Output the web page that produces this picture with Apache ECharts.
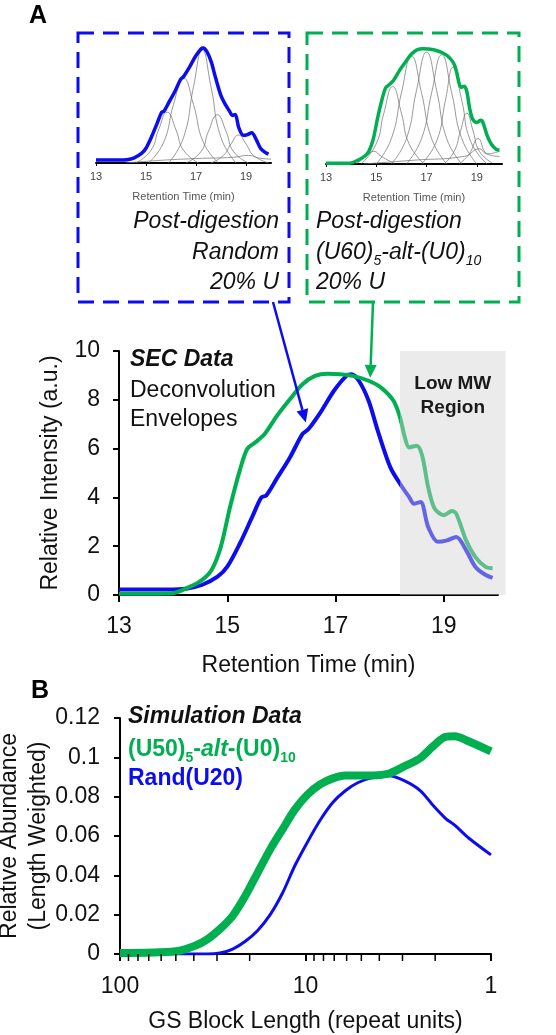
<!DOCTYPE html>
<html>
<head>
<meta charset="utf-8">
<script src="https://cdn.jsdelivr.net/npm/echarts@6/dist/echarts.min.js"></script>
<style>
  html, body { margin: 0; padding: 0; background: #fff; }
  #chart { width: 556px; height: 1035px; }
</style>
</head>
<body>
<div id="chart"></div>
<script>
const FONT = '"Liberation Sans", Arial, sans-serif';
const BLUE = '#0c0cf0';
const GREEN = '#00b050';

// Panel A: SEC deconvolution envelopes [retention time (min), intensity]
const secRandom = [
  [13.0, 0.23], [13.9, 0.23], [14.24, 0.26], [14.53, 0.41], [14.82, 0.75], [15.0, 1.16],
  [15.23, 2.1], [15.46, 3.2], [15.63, 4.0], [15.72, 4.08], [15.93, 4.83], [16.16, 5.65],
  [16.39, 6.6], [16.5, 6.8], [16.74, 7.55], [16.97, 8.37], [17.2, 8.98], [17.29, 9.05],
  [17.43, 8.78], [17.61, 7.96], [17.78, 6.73], [18.01, 5.24], [18.19, 4.56], [18.36, 4.01],
  [18.45, 3.74], [18.57, 3.81], [18.71, 2.79], [18.89, 2.18], [19.06, 2.24], [19.23, 2.38],
  [19.41, 1.84], [19.58, 1.16], [19.75, 0.85], [19.9, 0.7]
];
const secAlt = [
  [13.0, 0.05], [13.95, 0.06], [14.24, 0.27], [14.53, 0.61], [14.71, 1.02], [14.88, 1.97],
  [15.05, 3.6], [15.23, 5.1], [15.37, 5.99], [15.52, 6.26], [15.69, 6.6], [15.92, 7.35],
  [16.16, 8.03], [16.39, 8.64], [16.62, 8.98], [16.85, 9.07], [17.09, 9.05], [17.32, 8.98],
  [17.61, 8.78], [17.84, 8.5], [18.07, 7.96], [18.19, 7.28], [18.28, 6.46], [18.36, 6.05],
  [18.5, 6.12], [18.6, 5.71], [18.71, 4.42], [18.83, 3.54], [19.0, 3.27], [19.15, 3.44],
  [19.23, 3.33], [19.41, 2.24], [19.58, 1.56], [19.77, 1.15], [19.9, 1.1]
];

// inset gray deconvolution components
const randomComponents = [
  [[14.6, 0], [15.2, 1.0], [15.5, 2.6], [15.85, 4.0], [16.2, 2.6], [16.5, 1.0], [17.1, 0]],
  [[15.1, 0], [15.7, 1.6], [16.1, 4.6], [16.5, 6.7], [16.9, 4.6], [17.3, 1.6], [17.9, 0]],
  [[15.9, 0], [16.5, 2.0], [16.9, 6.0], [17.25, 8.9], [17.6, 6.0], [18.0, 2.0], [18.6, 0]],
  [[16.6, 0], [17.2, 0.9], [17.5, 2.5], [17.85, 3.8], [18.2, 2.5], [18.5, 0.9], [19.1, 0]],
  [[17.6, 0], [18.1, 0.6], [18.4, 1.5], [18.7, 2.2], [19.0, 1.5], [19.3, 0.6], [19.9, 0]],
  [[14.2, 0], [15.5, 0.2], [17.0, 0.35], [18.5, 0.45], [19.1, 0.6], [19.5, 0.4], [20.0, 0.3]]
];
const altComponents = [
  [[14.2, 0], [14.6, 0.6], [14.9, 1.0], [15.2, 0.6], [15.7, 0.05]],
  [[14.4, 0], [15.0, 1.6], [15.3, 4.0], [15.65, 6.1], [16.0, 4.0], [16.3, 1.6], [16.9, 0]],
  [[15.0, 0], [15.6, 2.0], [16.0, 5.6], [16.4, 8.5], [16.8, 5.6], [17.2, 2.0], [17.8, 0]],
  [[15.6, 0], [16.2, 2.0], [16.6, 5.8], [17.0, 8.8], [17.4, 5.8], [17.8, 2.0], [18.4, 0]],
  [[16.2, 0], [16.8, 2.0], [17.2, 5.6], [17.6, 8.6], [18.0, 5.6], [18.4, 2.0], [19.0, 0]],
  [[16.8, 0], [17.4, 1.8], [17.75, 5.0], [18.05, 7.6], [18.4, 5.0], [18.75, 1.8], [19.4, 0]],
  [[17.7, 0], [18.1, 1.0], [18.35, 2.6], [18.6, 4.0], [18.85, 2.6], [19.1, 1.0], [19.6, 0.1]],
  [[18.3, 0], [18.7, 0.8], [19.05, 2.0], [19.4, 0.8], [19.9, 0.6]],
  [[14.5, 0], [16.5, 0.3], [18.5, 0.6], [19.1, 1.2], [19.4, 0.8], [19.9, 1.0]]
];

const rtTicks = [13, 15, 17, 19];
const lowMwRegion = [18.19, 20.14];
const arrowTips = [[16.45, 7.07], [17.64, 8.9]];

// Panel B: simulation [GS block length, relative abundance]
const blockLen = [100, 50, 39.4, 33.7, 28.9, 24.7, 21.1, 18.1, 15.5, 13.3, 11.4, 9.75, 8.34, 7.13, 6.1, 5.2, 4.3, 3.54, 2.92, 2.4, 2.05, 1.76, 1.57, 1.32, 1.0];
const simAlt = [0.0005, 0.0014, 0.0042, 0.0076, 0.0127, 0.0194, 0.0296, 0.0414, 0.0532, 0.0634, 0.0735, 0.0811, 0.0862, 0.0893, 0.0908, 0.0908, 0.0908, 0.0918, 0.0955, 0.0997, 0.1057, 0.1104, 0.1107, 0.1082, 0.103];
const simRand = [0, 0, 0, 0, 0.0005, 0.0025, 0.0065, 0.012, 0.02, 0.031, 0.045, 0.057, 0.068, 0.077, 0.083, 0.0872, 0.0898, 0.0906, 0.088, 0.083, 0.0755, 0.069, 0.0655, 0.059, 0.0504];
const logMinorTicks = [90, 80, 70, 60, 50, 40, 30, 20, 9, 8, 7, 6, 5, 4, 3, 2];

const chart = echarts.init(document.getElementById('chart'));

const axisBlack = { lineStyle: { color: '#000', width: 2 } };

function insetX(gridIndex) {
  return {
    gridIndex, type: 'value', min: 13, max: 20,
    axisLine: { lineStyle: { color: '#000', width: 2 } },
    axisTick: { show: true, length: 3, customValues: rtTicks, lineStyle: { color: '#000' } },
    axisLabel: { customValues: rtTicks, fontSize: 11, color: '#444', fontFamily: FONT, margin: 8 },
    splitLine: { show: false },
    name: 'Retention Time (min)', nameLocation: 'middle', nameGap: 28,
    nameTextStyle: { fontSize: 11, color: '#555', fontFamily: FONT }
  };
}
function insetY(gridIndex) {
  return { gridIndex, type: 'value', min: 0, max: 10, show: false };
}

function componentSeries(list, idx) {
  return list.map(pts => ({
    type: 'line', xAxisIndex: idx, yAxisIndex: idx, data: pts, smooth: 0.5,
    symbol: 'none', silent: true, z: 1,
    lineStyle: { color: '#777', width: 1, opacity: 0.75 }
  }));
}

const series = [
  ...componentSeries(randomComponents, 0),
  ...componentSeries(altComponents, 1),
  { type: 'line', xAxisIndex: 0, yAxisIndex: 0, data: secRandom, smooth: 0.3, symbol: 'none', z: 3,
    lineStyle: { color: BLUE, width: 3.5 } },
  { type: 'line', xAxisIndex: 1, yAxisIndex: 1, data: secAlt, smooth: 0.3, symbol: 'none', z: 3,
    lineStyle: { color: GREEN, width: 3.5 } },
  { type: 'line', xAxisIndex: 2, yAxisIndex: 2, data: secRandom, smooth: 0.3, symbol: 'none', z: 2,
    lineStyle: { color: BLUE, width: 4 } },
  { type: 'line', xAxisIndex: 2, yAxisIndex: 2, data: secAlt, smooth: 0.3, symbol: 'none', z: 2,
    lineStyle: { color: GREEN, width: 4 } },
  { // low MW shaded region, drawn over the lines and past the axis end
    type: 'custom', xAxisIndex: 2, yAxisIndex: 2, clip: false, silent: true, z: 5,
    data: [lowMwRegion],
    renderItem: (params, api) => {
      const tl = api.coord([api.value(0), 10]);
      const br = api.coord([api.value(1), 0]);
      return {
        type: 'group',
        children: [
          { type: 'rect', shape: { x: tl[0], y: tl[1], width: br[0] - tl[0], height: br[1] - tl[1] },
            style: { fill: 'rgba(211,211,211,0.45)' } },
          { type: 'text', x: (tl[0] + br[0]) / 2, y: tl[1] + 21,
            style: { text: 'Low MW\nRegion', fontSize: 19, fontWeight: 'bold', fill: '#1a1a1a',
              fontFamily: FONT, lineHeight: 24, align: 'center', verticalAlign: 'top' } }
        ]
      };
    }
  },
  { type: 'line', xAxisIndex: 3, yAxisIndex: 3, data: blockLen.map((b, i) => [b, simRand[i]]),
    smooth: 0.3, symbol: 'none', z: 2, lineStyle: { color: BLUE, width: 3 } },
  { type: 'line', xAxisIndex: 3, yAxisIndex: 3, data: blockLen.map((b, i) => [b, simAlt[i]]),
    smooth: 0.3, symbol: 'none', z: 3, lineStyle: { color: GREEN, width: 8 } },
  { // minor ticks of the log axis
    type: 'custom', xAxisIndex: 3, yAxisIndex: 3, silent: true, clip: false, z: 4,
    data: logMinorTicks.map(v => [v, 0]),
    renderItem: (params, api) => {
      const p = api.coord([api.value(0), 0]);
      return { type: 'line', shape: { x1: p[0], y1: p[1], x2: p[0], y2: p[1] + 7 },
        style: { stroke: '#000', lineWidth: 1.5 } };
    }
  }
];

const option = {
  animation: false,
  backgroundColor: '#fff',
  textStyle: { fontFamily: FONT },
  grid: [
    { left: 96, top: 36, width: 175, height: 127, outerBoundsMode: 'none' },
    { left: 326, top: 37, width: 176, height: 127, outerBoundsMode: 'none' },
    { left: 119, top: 351, width: 379, height: 244, outerBoundsMode: 'none' },
    { left: 120, top: 718, width: 371, height: 236, outerBoundsMode: 'none' }
  ],
  xAxis: [
    insetX(0), insetX(1),
    {
      gridIndex: 2, type: 'value', min: 13, max: 20,
      axisLine: axisBlack,
      axisTick: { show: true, length: 7, customValues: rtTicks, lineStyle: { color: '#000', width: 2 } },
      axisLabel: { customValues: rtTicks, fontSize: 23, color: '#111', margin: 20, fontFamily: FONT },
      splitLine: { show: false },
      name: 'Retention Time (min)', nameLocation: 'middle', nameGap: 59,
      nameTextStyle: { fontSize: 23, color: '#111', fontFamily: FONT }
    },
    {
      gridIndex: 3, type: 'log', logBase: 10, min: 1, max: 100, inverse: true,
      axisLine: axisBlack,
      axisTick: { show: true, length: 7, lineStyle: { color: '#000', width: 2 } },
      axisLabel: { fontSize: 23, color: '#111', margin: 21, fontFamily: FONT },
      splitLine: { show: false },
      name: 'GS Block Length (repeat units)', nameLocation: 'middle', nameGap: 56,
      nameTextStyle: { fontSize: 23, color: '#111', fontFamily: FONT }
    }
  ],
  yAxis: [
    insetY(0), insetY(1),
    {
      gridIndex: 2, type: 'value', min: 0, max: 10, interval: 2,
      axisLine: { show: true, ...axisBlack },
      axisTick: { show: true, length: 6, lineStyle: { color: '#000', width: 2 } },
      axisLabel: { fontSize: 23, color: '#111', margin: 19, fontFamily: FONT },
      splitLine: { show: false },
      name: 'Relative Intensity (a.u.)', nameLocation: 'middle', nameGap: 57, nameRotate: 90,
      nameTextStyle: { fontSize: 23, color: '#111', fontFamily: FONT }
    },
    {
      gridIndex: 3, type: 'value', min: 0, max: 0.12, interval: 0.02,
      axisLine: { show: true, ...axisBlack },
      axisTick: { show: true, length: 6, lineStyle: { color: '#000', width: 2 } },
      axisLabel: { fontSize: 23, color: '#111', margin: 20, fontFamily: FONT },
      splitLine: { show: false },
      name: 'Relative Abundance\n(Length Weighted)', nameLocation: 'middle', nameGap: 67, nameRotate: 90,
      nameMoveOverlap: false,
      nameTextStyle: { fontSize: 23, color: '#111', fontFamily: FONT, lineHeight: 29 }
    }
  ],
  series
};

chart.setOption(option);

// annotations: panel labels, inset captions, dashed boxes, arrows
function txt(x, y, text, style) {
  return { type: 'text', x, y, silent: true, z: 100,
    style: Object.assign({ text, fontFamily: FONT, fontSize: 23, fill: '#111',
      align: 'left', verticalAlign: 'middle' }, style) };
}
function arrow(from, to, color) {
  const dx = to[0] - from[0], dy = to[1] - from[1];
  const len = Math.hypot(dx, dy), ux = dx / len, uy = dy / len;
  const head = 13, half = 6;
  const bx = to[0] - ux * head, by = to[1] - uy * head;
  return [
    { type: 'line', silent: true, z: 100, shape: { x1: from[0], y1: from[1], x2: bx, y2: by },
      style: { stroke: color, lineWidth: 2.5 } },
    { type: 'polygon', silent: true, z: 100,
      shape: { points: [to, [bx - uy * half, by + ux * half], [bx + uy * half, by - ux * half]] },
      style: { fill: color } }
  ];
}

const subRich = (color, weight, style) => ({
  n: { fontSize: 23, fontStyle: style, fontWeight: weight, fill: color, fontFamily: FONT, lineHeight: 30, verticalAlign: 'middle' },
  i: { fontSize: 23, fontStyle: 'italic', fontWeight: weight, fill: color, fontFamily: FONT, lineHeight: 30, verticalAlign: 'middle' },
  s: { fontSize: 14, fontStyle: style, fontWeight: weight, fill: color, fontFamily: FONT, lineHeight: 30, verticalAlign: 'bottom' }
});

const tipA = chart.convertToPixel({ gridIndex: 2 }, arrowTips[0]);
const tipB = chart.convertToPixel({ gridIndex: 2 }, arrowTips[1]);

const graphic = [
  txt(38, 16, 'A', { fontWeight: 'bold', fontSize: 25, align: 'center', fill: '#000' }),
  txt(40, 691, 'B', { fontWeight: 'bold', fontSize: 25, align: 'center', fill: '#000' }),
  { type: 'rect', silent: true, z: 90, shape: { x: 78, y: 33, width: 211, height: 269 },
    style: { fill: 'none', stroke: BLUE, lineWidth: 3, lineDash: [16, 9] } },
  { type: 'rect', silent: true, z: 90, shape: { x: 307, y: 33, width: 212, height: 269 },
    style: { fill: 'none', stroke: GREEN, lineWidth: 3, lineDash: [16, 9] } },
  txt(279, 222, 'Post-digestion', { fontStyle: 'italic', align: 'right' }),
  txt(279, 253, 'Random', { fontStyle: 'italic', align: 'right' }),
  txt(279, 283, '20% U', { fontStyle: 'italic', align: 'right' }),
  txt(316, 222, 'Post-digestion', { fontStyle: 'italic' }),
  txt(316, 253, '{n|(U60)}{s|5}{n|-alt-(U0)}{s|10}', { rich: subRich('#111', 'normal', 'italic') }),
  txt(316, 283, '20% U', { fontStyle: 'italic' }),
  txt(130, 360, 'SEC Data', { fontStyle: 'italic', fontWeight: 'bold' }),
  txt(130, 391, 'Deconvolution'),
  txt(130, 420, 'Envelopes'),
  txt(128, 717, 'Simulation Data', { fontStyle: 'italic', fontWeight: 'bold' }),
  txt(128, 750, '{n|(U50)}{s|5}{n|-}{i|alt}{n|-(U0)}{s|10}', { rich: subRich(GREEN, 'bold', 'normal') }),
  txt(128, 779, 'Rand(U20)', { fontWeight: 'bold', fill: BLUE }),
  ...arrow([273, 302], tipA, BLUE),
  ...arrow([373, 302], tipB, GREEN)
];

chart.setOption({ graphic });
</script>
</body>
</html>
